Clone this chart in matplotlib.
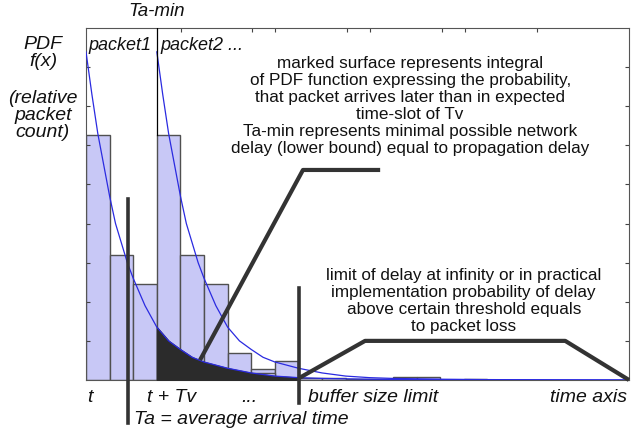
import numpy as np
import matplotlib.pyplot as plt

plt.rcParams['font.family'] = ['Liberation Sans', 'DejaVu Sans']

# histogram bars (left edge in bin units, height)
p1_left = [0, 1, 2]
p1_height = [6.27, 3.2, 2.45]
p2_left = [3, 4, 5, 6, 7, 8]
p2_height = [6.27, 3.2, 2.45, 0.69, 0.28, 0.49]
extra_left = [7, 9, 10, 11, 12, 13, 14, 16]
extra_height = [0.18, 0.05, 0.04, 0.03, 0.02, 0.08, 0.08, 0.03]

# PDF curve (x in bins)
curve_x = [0, 0.25, 0.5, 0.75, 1, 1.25, 1.5, 1.75, 2, 2.5, 3, 3.5, 4, 4.5,
           5, 6, 7, 8, 9, 10, 11, 12, 14, 17, 20, 23]
curve_y = [8.39, 7.3, 6.3, 5.5, 4.7, 4.0, 3.5, 3.0, 2.6, 1.9, 1.35, 1.0, 0.78,
           0.58, 0.46, 0.3, 0.18, 0.1, 0.06, 0.04, 0.03, 0.02, 0.01, 0.005, 0, 0]
shift = 3  # packet2 starts one slot Tv later

fig = plt.figure(figsize=(6.31, 4.32), dpi=100)
ax = fig.add_axes([0.1363, 0.1204, 0.8605, 0.8148])

barfc = '#c8c8f6'
barec = '#505050'
ax.bar(p1_left, p1_height, width=1, align='edge', color=barfc, edgecolor=barec, lw=1)
ax.bar(p2_left, p2_height, width=1, align='edge', color=barfc, edgecolor=barec, lw=1)
ax.bar(extra_left, extra_height, width=1, align='edge', color=barfc, edgecolor=barec, lw=1)

cx = np.array(curve_x)
cy = np.array(curve_y)
# marked surface: tail of packet1 PDF past t + Tv
m = (cx >= 3) & (cx <= 9)
ax.fill_between(cx[m], 0, cy[m], color='#2b2b2b', zorder=3)

ax.plot(cx, cy, color='#2a2ae0', lw=0.9, zorder=4)
ax.plot(cx + shift, cy, color='#2a2ae0', lw=0.9, zorder=4)

ax.set_xlim(0, 23)
ax.set_ylim(0, 9)

# Ta-min line
ax.plot([3, 3], [6.27, 9], color='black', lw=0.9, zorder=4)

dark = '#333333'
# Ta line and buffer size limit
ax.plot([1.78, 1.78], [4.63, -1.1], color=dark, lw=2.6, clip_on=False, zorder=5)
ax.plot([9.03, 9.03], [2.35, -0.59], color=dark, lw=2.6, clip_on=False, zorder=5)
# callout lines
ax.plot([4.83, 9.19, 12.46], [0.51, 5.37, 5.37], color=dark, lw=3, zorder=5,
        solid_capstyle='butt')
ax.plot([9.03, 11.82, 20.3, 23.0], [0.05, 1.0, 1.0, 0.0], color=dark, lw=3,
        zorder=5, clip_on=False, solid_capstyle='butt')

ax.set_xticks([4.03, 7.03, 8.0, 11.06, 12.03, 15.08, 16.06, 19.1])
ax.set_yticks(range(1, 9))
ax.tick_params(direction='in', length=3, top=True, right=True, bottom=False,
               labelbottom=False, labelleft=False, color='#444444')
for s in ax.spines.values():
    s.set_color('#555555')
    s.set_linewidth(0.8)

it = dict(style='italic', color='#111111')
ax.text(3, 9.2, 'Ta-min', ha='center', va='bottom', fontsize=13.5, **it)
ax.text(0.1, 8.55, 'packet1', ha='left', va='center', fontsize=13, **it)
ax.text(3.15, 8.55, 'packet2 ...', ha='left', va='center', fontsize=13, **it)
fig.text(0.068, 0.877, 'PDF\nf(x)', ha='center', va='center', fontsize=14,
         linespacing=0.98, **it)
fig.text(0.068, 0.7315, '(relative\npacket\ncount)', ha='center', va='center',
         fontsize=14, linespacing=1.0, **it)

ax.text(0.05, -0.45, 't', ha='left', va='center', fontsize=14, **it)
ax.text(3.64, -0.45, 't + Tv', ha='center', va='center', fontsize=14, **it)
ax.text(6.9, -0.45, '...', ha='center', va='center', fontsize=14, **it)
ax.text(9.4, -0.45, 'buffer size limit', ha='left', va='center', fontsize=14, **it)
ax.text(22.9, -0.45, 'time axis', ha='right', va='center', fontsize=14, **it)
ax.text(2.05, -1.0, 'Ta = average arrival time', ha='left', va='center',
        fontsize=14, **it)

ax.text(13.73, 7.0,
        'marked surface represents integral\n'
        'of PDF function expressing the probability,\n'
        'that packet arrives later than in expected\n'
        'time-slot of Tv\n'
        'Ta-min represents minimal possible network\n'
        'delay (lower bound) equal to propagation delay',
        ha='center', va='center', fontsize=12.3, linespacing=1.17, color='#111111')
ax.text(16.0, 2.02,
        'limit of delay at infinity or in practical\n'
        'implementation probability of delay\n'
        'above certain threshold equals\n'
        'to packet loss',
        ha='center', va='center', fontsize=12.3, linespacing=1.17, color='#111111')

plt.savefig('out.png', dpi=100)
